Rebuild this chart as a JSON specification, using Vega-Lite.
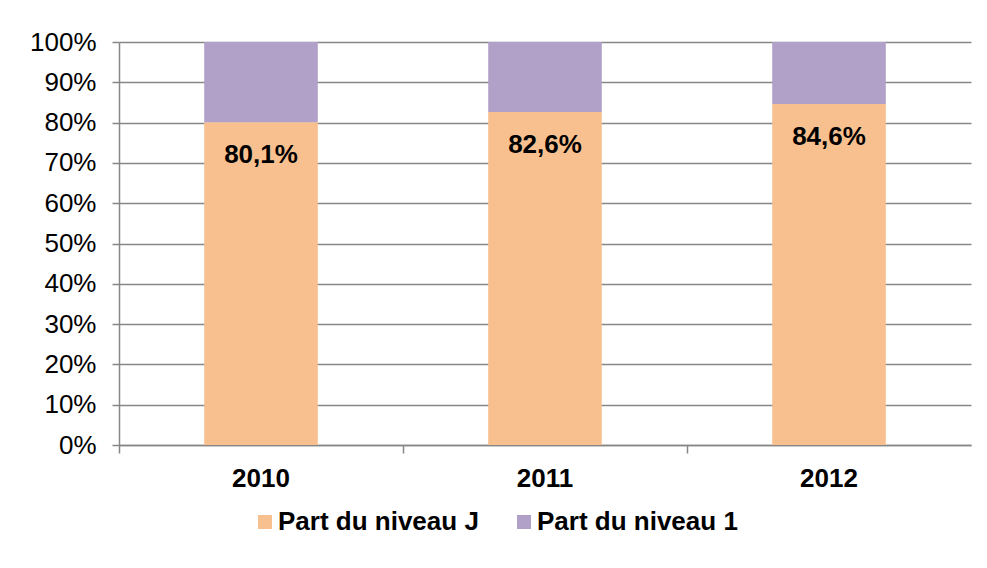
{
  "$schema": "https://vega.github.io/schema/vega-lite/v6.json",
  "width": 852,
  "height": 403,
  "autosize": {"type": "none"},
  "padding": {"left": 119, "top": 42, "right": 16, "bottom": 123},
  "background": "white",
  "config": {
    "view": {"stroke": null},
    "font": "Liberation Sans"
  },
  "data": {
    "values": [
      {"annee": "2010", "serie": "Part du niveau J", "ordre": 1, "valeur": 0.801, "label": "80,1%"},
      {"annee": "2010", "serie": "Part du niveau 1", "ordre": 2, "valeur": 0.199, "label": ""},
      {"annee": "2011", "serie": "Part du niveau J", "ordre": 1, "valeur": 0.826, "label": "82,6%"},
      {"annee": "2011", "serie": "Part du niveau 1", "ordre": 2, "valeur": 0.174, "label": ""},
      {"annee": "2012", "serie": "Part du niveau J", "ordre": 1, "valeur": 0.846, "label": "84,6%"},
      {"annee": "2012", "serie": "Part du niveau 1", "ordre": 2, "valeur": 0.154, "label": ""}
    ]
  },
  "encoding": {
    "x": {
      "field": "annee", "type": "nominal",
      "scale": {"paddingInner": 0, "paddingOuter": 0},
      "axis": {
        "title": null, "labelAngle": 0, "bandPosition": 0,
        "domainColor": "#878787", "domainWidth": 1.5,
        "tickColor": "#878787", "tickSize": 8, "tickWidth": 1.5,
        "labelFontSize": 26, "labelFontWeight": "bold", "labelColor": "#000000",
        "labelPadding": 12, "labelFont": "Liberation Sans"
      }
    },
    "y": {
      "field": "valeur", "type": "quantitative", "stack": "zero",
      "scale": {"domain": [0, 1]},
      "axis": {
        "title": null, "format": ".0%", "values": [0,0.1,0.2,0.3,0.4,0.5,0.6,0.7,0.8,0.9,1],
        "labelOverlap": false,
        "grid": true, "gridColor": "#878787", "gridWidth": 1.5,
        "domainColor": "#878787", "domainWidth": 1.5,
        "tickColor": "#878787", "tickSize": 7, "tickWidth": 1.5,
        "labelFontSize": 26, "labelColor": "#000000", "labelPadding": 16,
        "labelFont": "Liberation Sans"
      }
    },
    "order": {"field": "ordre", "type": "quantitative"}
  },
  "layer": [
    {
      "mark": {"type": "bar", "width": {"band": 0.4}},
      "encoding": {
        "color": {
          "field": "serie", "type": "nominal",
          "scale": {"domain": ["Part du niveau J", "Part du niveau 1"], "range": ["#F9C08F", "#B1A1C8"]},
          "legend": {
            "title": null, "orient": "none", "direction": "horizontal",
            "legendX": 133, "legendY": 467,
            "symbolType": "square", "symbolSize": 196, "symbolStrokeWidth": 0,
            "labelFontSize": 26, "labelFontWeight": "bold", "labelColor": "#000000",
            "labelFont": "Liberation Sans", "labelOffset": 0, "columnPadding": 32,
            "labelLimit": 400
          }
        }
      }
    },
    {
      "transform": [{"filter": "datum.ordre == 1"}],
      "mark": {"type": "text", "fontSize": 26, "fontWeight": "bold", "font": "Liberation Sans", "color": "#000000", "baseline": "middle", "dy": 33},
      "encoding": {
        "text": {"field": "label"}
      }
    }
  ]
}
